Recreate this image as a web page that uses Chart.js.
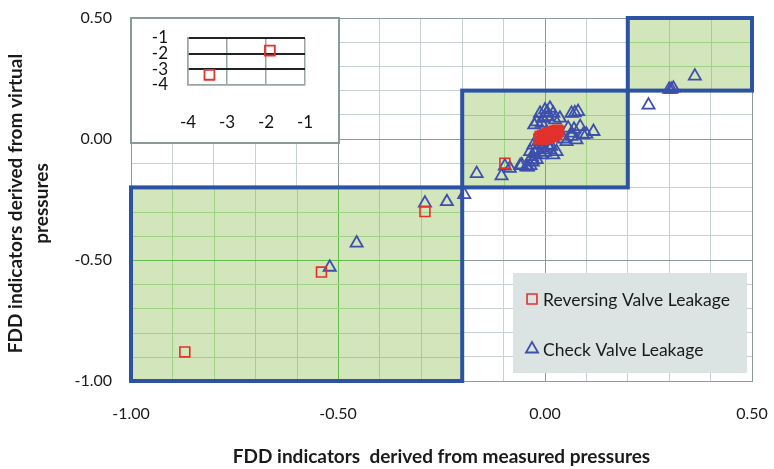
<!DOCTYPE html>
<html>
<head>
<meta charset="utf-8">
<script src="https://cdn.jsdelivr.net/npm/chart.js@4/dist/chart.umd.min.js"></script>
<style>
  html, body { margin: 0; padding: 0; background: #ffffff; }
  #wrap { position: relative; width: 774px; height: 469px; overflow: hidden; }
  #main { position: absolute; left: 0; top: 0; }
  #insetBox { position: absolute; left: 130px; top: 17px; width: 206px; height: 123px;
              border: 2px solid #8C9A9A; background: #ffffff; }
  #inset { position: absolute; left: 0; top: 0; }
</style>
</head>
<body>
<div id="wrap">
  <canvas id="main" width="774" height="469"></canvas>
  <div id="insetBox"><canvas id="inset" width="206" height="123"></canvas></div>
</div>
<script>
// FDD indicator pairs: x = from measured pressures, y = from virtual pressures
const reversingX = [-0.87, -0.54, -0.29, -0.097,
  -0.015, -0.011, -0.007, -0.003, 0.001, 0.005, 0.009, 0.013, 0.017, 0.021, 0.025, 0.029, 0.033,
  -0.012, -0.006, 0.000, 0.006, 0.012, 0.018, 0.024, 0.030,
  -0.004, 0.003, 0.010, 0.016, 0.022, 0.028];
const reversingY = [-0.88, -0.55, -0.30, -0.100,
  0.000, 0.003, 0.006, 0.008, 0.011, 0.013, 0.016, 0.019, 0.021, 0.024, 0.026, 0.029, 0.032,
  0.010, 0.014, 0.018, 0.022, 0.026, 0.030, 0.033, 0.036,
  0.000, 0.003, 0.006, 0.010, 0.014, 0.018];

const checkX = [-0.52, -0.455, -0.29, -0.237, -0.195, -0.165, -0.105, -0.097, -0.085,
  -0.060, -0.045, -0.035, -0.041, -0.056, -0.029,
  -0.028, -0.016, -0.036, -0.020, -0.004, 0.012, 0.028, -0.032, -0.008, 0.008, 0.020,
  -0.024, 0.000, 0.015, -0.010, -0.020, -0.030,
  0.012, 0.000, -0.012, 0.020, 0.036, -0.020, -0.008, 0.007, 0.024, -0.026, 0.005, -0.005,
  0.064, 0.080, 0.072,
  0.056, 0.085, 0.117, 0.064, 0.092, 0.052, 0.076, 0.064, 0.070, 0.100, 0.045,
  0.25, 0.300, 0.310, 0.305, 0.362];
const checkY = [-0.53, -0.43, -0.265, -0.259, -0.230, -0.143, -0.152, -0.112, -0.121,
  -0.110, -0.115, -0.110, -0.116, -0.107, -0.087,
  -0.025, -0.011, -0.052, -0.045, -0.038, -0.045, -0.052, -0.073, -0.066, -0.025, -0.066,
  -0.060, -0.055, -0.030, -0.020, -0.085, -0.095,
  0.127, 0.120, 0.106, 0.106, 0.086, 0.071, 0.065, 0.092, 0.079, 0.058, 0.110, 0.085,
  0.106, 0.113, 0.108,
  0.045, 0.051, 0.031, 0.024, 0.017, -0.011, -0.004, 0.011, 0.040, 0.020, 0.000,
  0.14, 0.205, 0.210, 0.205, 0.260];

// Outliers shown in the small panel (beyond the main axis range)
const outlierX = [-1.9, -3.45];
const outlierY = [-1.8, -3.35];

// Agreement zones: [xMin, xMax, yMin, yMax]
const zones = [
  [-1.0, -0.2, -1.0, -0.2],
  [-0.2, 0.2, -0.2, 0.2],
  [0.2, 0.5, 0.2, 0.5]
];

const axisMin = -1.0, axisMax = 0.5, gridStep = 0.1, labelStep = 0.5;
const insetMin = -4, insetMax = -1;

const seriesNames = ['Reversing Valve Leakage', 'Check Valve Leakage'];
const xTitle = 'FDD indicators  derived from measured pressures';
const yTitle = ['FDD indicators derived from virtual', 'pressures'];

const RED = '#E2322C';
const BLUE = '#3D4FAE';
const FONT = 'Lato, "Liberation Sans", sans-serif';

function pairs(xs, ys) { return xs.map((x, i) => ({ x: x, y: ys[i] })); }
function isMajor(v) { return Math.abs(v / labelStep - Math.round(v / labelStep)) < 1e-6; }
function noPad(s) { s.paddingLeft = 0; s.paddingRight = 0; s.paddingTop = 0; s.paddingBottom = 0; }

const zonePlugin = {
  id: 'zones',
  beforeDatasetsDraw(chart) {
    const { ctx, scales: { x, y } } = chart;
    ctx.save();
    zones.forEach(z => {
      const l = x.getPixelForValue(z[0]), r = x.getPixelForValue(z[1]);
      const t = y.getPixelForValue(z[3]), b = y.getPixelForValue(z[2]);
      ctx.fillStyle = '#D3E5BA';
      ctx.fillRect(l, t, r - l, b - t);
      ctx.lineWidth = 1;
      x.ticks.forEach(tk => {
        if (tk.value > z[0] + 1e-6 && tk.value < z[1] - 1e-6) {
          const px = Math.round(x.getPixelForValue(tk.value)) + 0.5;
          ctx.strokeStyle = isMajor(tk.value) ? '#62BC4C' : '#9ED383';
          ctx.beginPath(); ctx.moveTo(px, t); ctx.lineTo(px, b); ctx.stroke();
        }
      });
      y.ticks.forEach(tk => {
        if (tk.value > z[2] + 1e-6 && tk.value < z[3] - 1e-6) {
          const py = Math.round(y.getPixelForValue(tk.value)) + 0.5;
          ctx.strokeStyle = isMajor(tk.value) ? '#62BC4C' : '#9ED383';
          ctx.beginPath(); ctx.moveTo(l, py); ctx.lineTo(r, py); ctx.stroke();
        }
      });
    });
    zones.forEach(z => {
      const l = x.getPixelForValue(z[0]), r = x.getPixelForValue(z[1]);
      const t = y.getPixelForValue(z[3]), b = y.getPixelForValue(z[2]);
      ctx.strokeStyle = '#2C52A4';
      ctx.lineWidth = 4;
      ctx.strokeRect(l, t, r - l, b - t);
    });
    ctx.restore();
  },
  afterDatasetsDraw(chart) {
    // legend panel
    const ctx = chart.ctx;
    ctx.save();
    ctx.fillStyle = '#DCE3E3';
    ctx.fillRect(513, 273, 234, 100);
    const ds = chart.data.datasets;
    const rows = [299, 349];
    ds.forEach((d, i) => {
      ctx.strokeStyle = d.pointBorderColor;
      ctx.fillStyle = 'rgba(0,0,0,0)';
      ctx.lineWidth = d.pointBorderWidth;
      Chart.helpers.drawPoint(ctx, { pointStyle: d.pointStyle, radius: d.pointRadius, rotation: 0, borderWidth: d.pointBorderWidth }, 532, rows[i]);
      ctx.fillStyle = '#1a1a1a';
      ctx.font = '17.5px ' + FONT;
      ctx.textAlign = 'left';
      ctx.textBaseline = 'middle';
      ctx.fillText(d.label, 543, rows[i] + 1);
    });
    ctx.restore();
  },
  afterDraw(chart) {
    const ctx = chart.ctx;
    const area = chart.chartArea;
    ctx.save();
    ctx.fillStyle = '#1a1a1a';
    ctx.font = 'bold 19px ' + FONT;
    ctx.textAlign = 'center';
    ctx.textBaseline = 'middle';
    ctx.fillText(xTitle, (area.left + area.right) / 2, 457);
    const cy = (area.top + area.bottom) / 2 + 4;
    ctx.save();
    ctx.translate(16, cy);
    ctx.rotate(-Math.PI / 2);
    ctx.fillText(yTitle[0], 0, 0);
    ctx.restore();
    ctx.save();
    ctx.translate(42, cy);
    ctx.rotate(-Math.PI / 2);
    ctx.fillText(yTitle[1], 0, 0);
    ctx.restore();
    ctx.restore();
  }
};

new Chart(document.getElementById('main'), {
  type: 'scatter',
  data: {
    datasets: [
      { label: seriesNames[0], data: pairs(reversingX, reversingY), pointStyle: 'rect',
        pointRadius: 7, pointBorderWidth: 1.6, pointBorderColor: RED, pointBackgroundColor: 'rgba(0,0,0,0)' },
      { label: seriesNames[1], data: pairs(checkX, checkY), pointStyle: 'triangle',
        pointRadius: 7, pointBorderWidth: 1.8, pointBorderColor: BLUE, pointBackgroundColor: 'rgba(0,0,0,0)' }
    ]
  },
  options: {
    responsive: false,
    animation: false,
    events: [],
    layout: { padding: { top: 18, right: 22, left: 0, bottom: 0 } },
    plugins: { legend: { display: false }, tooltip: { enabled: false } },
    scales: {
      x: {
        type: 'linear', min: axisMin, max: axisMax,
        afterFit(s) { s.height = 88; noPad(s); },
        ticks: { stepSize: gridStep, padding: 23, color: '#1a1a1a', font: { family: FONT, size: 16 },
          callback: v => isMajor(v) ? v.toFixed(2) : '' , maxRotation: 0, autoSkip: false },
        grid: { drawTicks: false, color: c => isMajor(c.tick.value) ? '#8C9A9A' : '#C6D0D0', lineWidth: 1 },
        border: { color: '#8C9A9A' }
      },
      y: {
        type: 'linear', min: axisMin, max: axisMax,
        afterFit(s) { s.width = 131; noPad(s); },
        ticks: { stepSize: gridStep, padding: 19, color: '#1a1a1a', font: { family: FONT, size: 16 },
          callback: v => isMajor(v) ? v.toFixed(2) : '', autoSkip: false },
        grid: { drawTicks: false, color: c => isMajor(c.tick.value) ? '#8C9A9A' : '#C6D0D0', lineWidth: 1 },
        border: { color: '#8C9A9A' }
      }
    }
  },
  plugins: [zonePlugin]
});

// Small panel with the two out-of-range points
new Chart(document.getElementById('inset'), {
  type: 'scatter',
  data: {
    datasets: [
      { label: seriesNames[0], data: pairs(outlierX, outlierY), pointStyle: 'rect',
        pointRadius: 7, pointBorderWidth: 1.8, pointBorderColor: RED, pointBackgroundColor: 'rgba(0,0,0,0)' }
    ]
  },
  options: {
    responsive: false,
    animation: false,
    events: [],
    layout: { padding: { top: 19, right: 33, left: 0, bottom: 0 } },
    plugins: { legend: { display: false }, tooltip: { enabled: false } },
    scales: {
      x: {
        type: 'linear', min: insetMin, max: insetMax,
        afterFit(s) { s.height = 57; noPad(s); },
        ticks: { stepSize: 1, padding: 27, color: '#111', font: { family: FONT, size: 17 }, maxRotation: 0, autoSkip: false },
        grid: { drawTicks: false, color: '#9AA6A6', lineWidth: 1.5 },
        border: { color: '#9AA6A6', width: 1.5 }
      },
      y: {
        type: 'linear', min: insetMin, max: insetMax,
        afterFit(s) { s.width = 56; noPad(s); },
        ticks: { stepSize: 1, padding: 20, color: '#111', font: { family: FONT, size: 17 }, autoSkip: false },
        grid: { drawTicks: false, color: c => c.tick.value > insetMin ? '#222' : '#9AA6A6',
                lineWidth: c => c.tick.value > insetMin ? 2 : 1.5 },
        border: { color: '#9AA6A6', width: 1.5 }
      }
    }
  }
});
</script>
</body>
</html>
